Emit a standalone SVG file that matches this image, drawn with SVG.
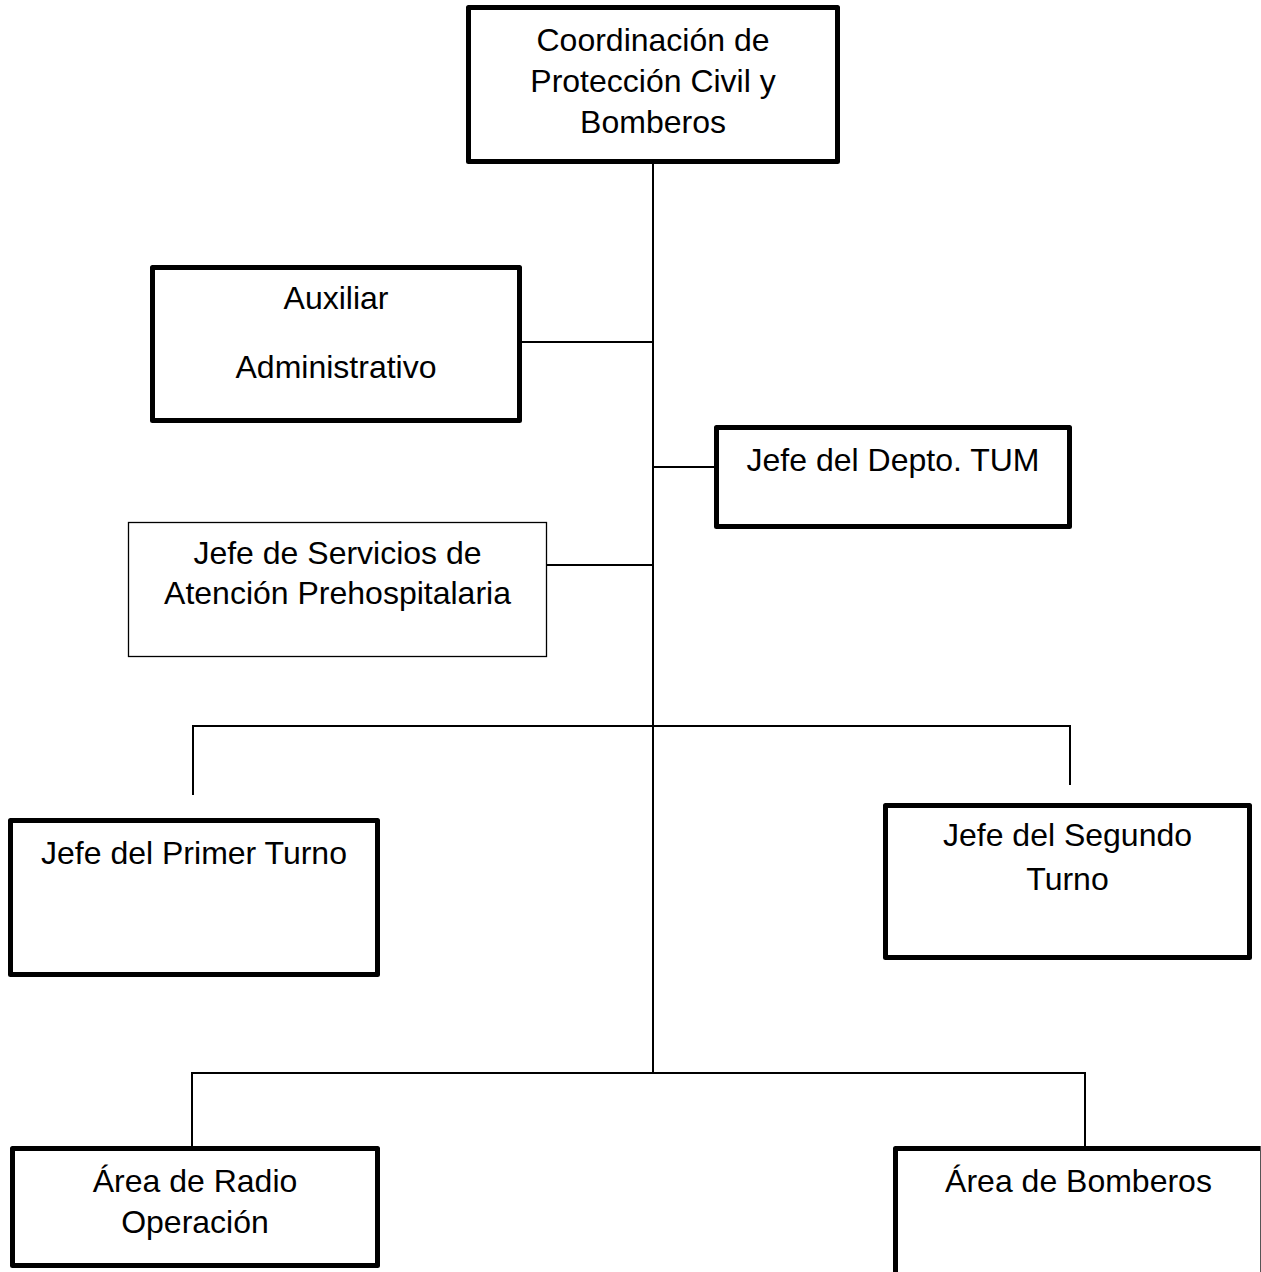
<svg xmlns="http://www.w3.org/2000/svg" width="1261" height="1272" viewBox="0 0 1261 1272">
<style>
.box{fill:#fff;stroke:#000;stroke-width:5;stroke-linejoin:round}
.thin{fill:#fff;stroke:#000;stroke-width:1.3}
.ln{stroke:#000;stroke-width:2;fill:none}
text{font-family:"Liberation Sans",Arial,sans-serif;font-size:32px;fill:#000;text-anchor:middle}
</style>
<rect width="1261" height="1272" fill="#fff"/>
<g id="connectors">
<line class="ln" x1="653" y1="162" x2="653" y2="1073"/>
<line class="ln" x1="521" y1="342" x2="653" y2="342"/>
<line class="ln" x1="653" y1="467" x2="716" y2="467"/>
<line class="ln" x1="547" y1="565" x2="653" y2="565"/>
<line class="ln" x1="192" y1="726" x2="1071" y2="726"/>
<line class="ln" x1="193" y1="725" x2="193" y2="795"/>
<line class="ln" x1="1070" y1="725" x2="1070" y2="785"/>
<line class="ln" x1="191" y1="1073" x2="1086" y2="1073"/>
<line class="ln" x1="192" y1="1072" x2="192" y2="1148"/>
<line class="ln" x1="1085" y1="1072" x2="1085" y2="1148"/>
</g>
<g id="coordinacion">
<rect class="box" x="468.5" y="7.5" width="369" height="154"/>
<text x="653" y="51">Coordinación de</text>
<text x="653" y="92">Protección Civil y</text>
<text x="653" y="133">Bomberos</text>
</g>
<g id="auxiliar">
<rect class="box" x="152.5" y="267.5" width="367" height="153"/>
<text x="336" y="309">Auxiliar</text>
<text x="336" y="378">Administrativo</text>
</g>
<g id="tum">
<rect class="box" x="716.5" y="427.5" width="353" height="99"/>
<text x="893" y="471">Jefe del Depto. TUM</text>
</g>
<g id="servicios">
<rect class="thin" x="128.5" y="522.5" width="418" height="134"/>
<text x="337.5" y="564">Jefe de Servicios de</text>
<text x="337.5" y="604">Atención Prehospitalaria</text>
</g>
<g id="primer-turno">
<rect class="box" x="10.5" y="820.5" width="367" height="154"/>
<text x="194" y="864">Jefe del Primer Turno</text>
</g>
<g id="segundo-turno">
<rect class="box" x="885.5" y="805.5" width="364" height="152"/>
<text x="1067.5" y="846">Jefe del Segundo</text>
<text x="1067.5" y="890">Turno</text>
</g>
<g id="radio">
<rect class="box" x="12.5" y="1148.5" width="365" height="117"/>
<text x="195" y="1192">Área de Radio</text>
<text x="195" y="1233">Operación</text>
</g>
<g id="bomberos">
<rect class="box" x="895.5" y="1148.5" width="380" height="140"/>
<line x1="1260.5" y1="1146" x2="1260.5" y2="1272" stroke="#555" stroke-width="1"/>
<text x="1078.5" y="1192">Área de Bomberos</text>
</g>
</svg>
